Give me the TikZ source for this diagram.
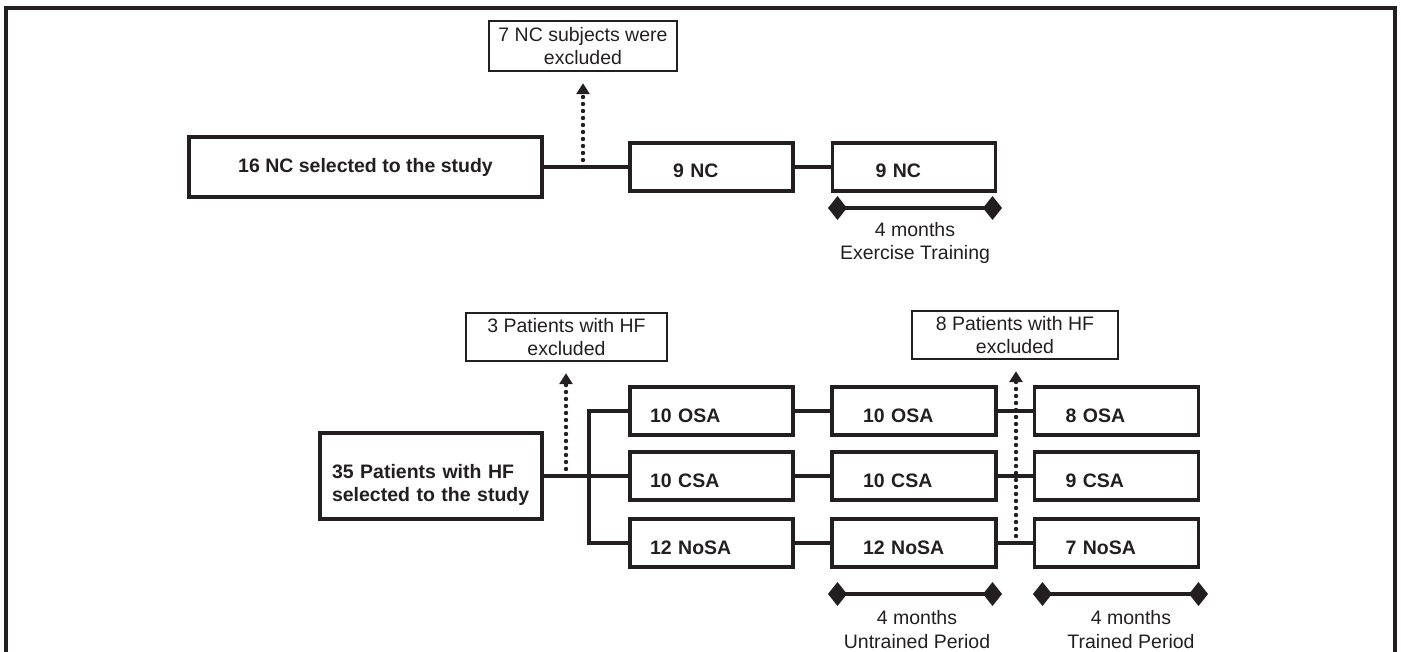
\documentclass[tikz,border=0pt]{standalone}
\usepackage{fontspec}
\setmainfont{Liberation Sans}
\usepackage{tikz}
\usetikzlibrary{arrows.meta,positioning,calc}
\usepackage{xcolor}
\definecolor{InkD}{RGB}{35, 31, 32}
\newcommand{\flowfont}{\fontsize{19.5}{23.5}\selectfont}

\tikzset{
  grpbox/.style={draw=InkD, line width=3.5pt, minimum height=48pt, align=left,
    font=\flowfont\bfseries, text=InkD, text height=22pt, text depth=0pt},
  grpA/.style={grpbox, inner xsep=20pt, text width=123pt},
  grpB/.style={grpbox, inner xsep=31pt, text width=102pt},
  grpC/.style={grpbox, inner xsep=43pt, text width=77pt},
  exbox/.style={draw=InkD, line width=2.4pt, align=center, font=\flowfont, text=InkD},
  link/.style={draw=InkD, line width=3.2pt},
  exarrow/.style={draw=InkD, line width=4.4pt, line cap=round,
    dash pattern=on 0pt off 7pt, shorten >=11pt,
    -{Triangle[length=11pt,width=13pt]}},
  periodbar/.style={draw=InkD, line width=3.4pt,
    {Turned Square[length=19pt,width=24pt]}-{Turned Square[length=19pt,width=24pt]}},
  periodlbl/.style={align=center, font=\flowfont, text=InkD}
}

\begin{document}
\begin{tikzpicture}[x=1pt,y=-1pt]
        \useasboundingbox (0,0) rectangle (1401,652);
        \draw[InkD,line width=3.4pt] (6,652) -- (6,8) -- (1395,8) -- (1395,652);

        % normal controls
        \node[draw=InkD, line width=3.5pt, minimum width=353pt, minimum height=60pt,
          font=\flowfont\bfseries, text=InkD] (nc0) at (365.5,167)
          {16 NC selected to the study};
        \node[grpC] (nc1) at (711.5,167) {9 NC};
        \node[grpC] (nc2) at (914,167) {9 NC};
        \node[exbox, minimum width=188pt, minimum height=50pt] (exNC) at (583,46)
          {7 NC subjects were\\excluded};
        \draw[link] (nc0) -- (nc1);
        \draw[link] (nc1) -- (nc2);
        \coordinate (dNC) at (583,167);
        \draw[exarrow] (dNC) -- (exNC);
        \coordinate (tN1) at (828,208);
        \coordinate (tN2) at (1002,208);
        \draw[periodbar] (tN1) -- (tN2);
        \node[periodlbl] (lblET) at (915,243) {4 months\\Exercise Training};

        % heart failure patients
        \node[draw=InkD, line width=3.5pt, minimum width=222pt, minimum height=86pt,
          inner xsep=12pt, text width=198pt, align=left, font=\flowfont\bfseries,
          text=InkD, text height=32pt, text depth=27.5pt] (hf) at (431,476)
          {35 Patients with HF\\selected to the study};
        \node[exbox, minimum width=201pt, minimum height=48pt] (exHF1) at (566.5,337)
          {3 Patients with HF\\excluded};
        \node[exbox, minimum width=206pt, minimum height=48pt] (exHF2) at (1015,335)
          {8 Patients with HF\\excluded};

        \node[grpA] (osa1)  at (711.5,411) {10 OSA};
        \node[grpA] (csa1)  at (711.5,476) {10 CSA};
        \node[grpA] (nosa1) at (711.5,543) {12 NoSA};
        \node[grpB] (osa2)  at (914,411) {10 OSA};
        \node[grpB] (csa2)  at (914,476) {10 CSA};
        \node[grpB] (nosa2) at (914,543) {12 NoSA};
        \node[grpB] (osa3)  at (1116.5,411) {8 OSA};
        \node[grpB] (csa3)  at (1116.5,476) {9 CSA};
        \node[grpB] (nosa3) at (1116.5,543) {7 NoSA};

        \coordinate (br) at (589,476);
        \draw[link] (hf) -- (csa1);
        \draw[link] (osa1.west) -| (br) |- (nosa1.west);
        \draw[link] (osa1) -- (osa2);
        \draw[link] (csa1) -- (csa2);
        \draw[link] (nosa1) -- (nosa2);
        \draw[link] (osa2) -- (osa3);
        \draw[link] (csa2) -- (csa3);
        \draw[link] (nosa2) -- (nosa3);

        \coordinate (dHF1) at (566,476);
        \draw[exarrow] (dHF1) -- (dHF1 |- exHF1.south);
        \coordinate (dHF2) at (1016,543);
        \draw[exarrow] (dHF2) -- (dHF2 |- exHF2.south);

        \coordinate (tU1) at (828,594);
        \coordinate (tU2) at (1002,594);
        \draw[periodbar] (tU1) -- (tU2);
        \node[periodlbl] (lblUP) at (917,629.5) {4 months\\Untrained Period};
        \coordinate (tT1) at (1033,594);
        \coordinate (tT2) at (1208,594);
        \draw[periodbar] (tT1) -- (tT2);
        \node[periodlbl] (lblTP) at (1131,629.5) {4 months\\Trained Period};
      \end{tikzpicture}
\end{document}
